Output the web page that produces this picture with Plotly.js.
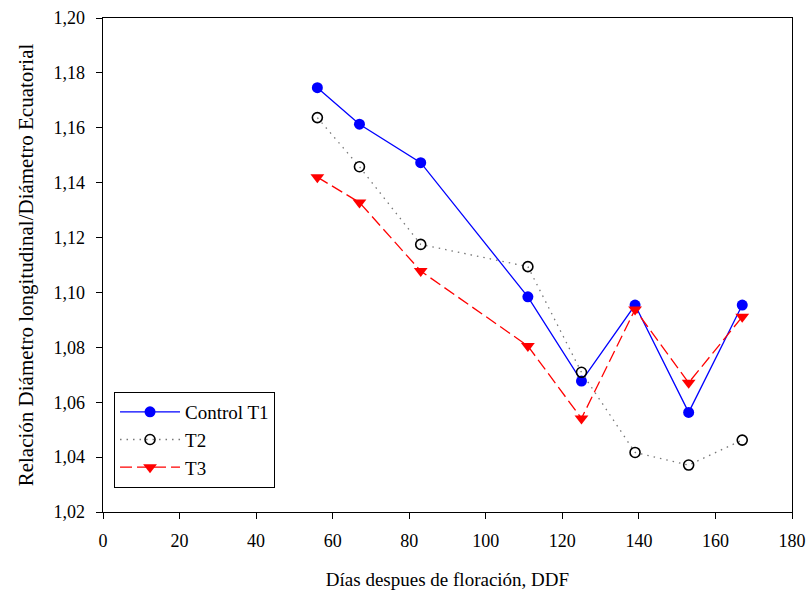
<!DOCTYPE html>
<html>
<head>
<meta charset="utf-8">
<script src="https://cdn.plot.ly/plotly-3.0.1.min.js"></script>
<style>
html,body{margin:0;padding:0;background:#fff;}
#chart{width:809px;height:596px;}
</style>
</head>
<body>
<div id="chart"></div>
<script>
const dias = [56, 67, 83, 111, 125, 139, 153, 167];
const controlT1 = [1.1746, 1.1613, 1.1473, 1.0984, 1.0677, 1.0954, 1.0563, 1.0954];
const t2 = [1.1637, 1.1458, 1.1175, 1.1094, 1.0709, 1.0417, 1.0371, 1.0462];
const t3 = [1.1420, 1.1328, 1.1078, 1.0805, 1.0541, 1.0938, 1.0671, 1.0911];
const seriesNames = ['Control T1', 'T2', 'T3'];
const xTitle = 'Días despues de floración, DDF';
const yTitle = 'Relación Diámetro longitudinal/Diámetro Ecuatorial';

const font = '"Liberation Serif", serif';

const traces = [
  {x: dias, y: controlT1, name: seriesNames[0], type: 'scatter', mode: 'lines+markers',
   line: {color: '#0000ff', width: 1.3},
   marker: {symbol: 'circle', size: 11, color: '#0000ff'}},
  {x: dias, y: t2, name: seriesNames[1], type: 'scatter', mode: 'lines+markers',
   line: {color: '#777777', width: 1.3, dash: '1.5px,5px'},
   marker: {symbol: 'circle-open', size: 10, color: '#000000', line: {width: 1.6, color: '#000000'}}},
  {x: dias, y: t3, name: seriesNames[2], type: 'scatter', mode: 'lines+markers',
   line: {color: '#ff0000', width: 1.3, dash: '12px,5px'},
   marker: {symbol: 'triangle-down', size: 12, color: '#ff0000'}}
];

const layout = {
  width: 809, height: 596,
  margin: {l: 103, r: 17, t: 18, b: 84},
  paper_bgcolor: '#ffffff', plot_bgcolor: '#ffffff',
  separators: ',.',
  font: {family: font, size: 18, color: '#000'},
  showlegend: true,
  legend: {
    x: 0.016, y: 0.243, xanchor: 'left', yanchor: 'top',
    bordercolor: '#000', borderwidth: 1, bgcolor: '#fff',
    font: {family: font, size: 19, color: '#000'},
    itemwidth: 60,
    tracegroupgap: 0
  },
  xaxis: {
    range: [0, 180], tick0: 0, dtick: 20, tickmode: 'linear',
    showgrid: false, zeroline: false,
    showline: true, linecolor: '#000', linewidth: 1.3, mirror: true,
    ticks: 'outside', ticklen: 6, tickwidth: 1, tickcolor: '#000',
    ticklabelstandoff: 6,
    tickfont: {family: font, size: 18},
    title: {text: xTitle, font: {family: font, size: 19}, standoff: 22}
  },
  yaxis: {
    range: [1.02, 1.20], tick0: 1.02, dtick: 0.02, tickmode: 'linear',
    tickformat: '.2f',
    showgrid: false, zeroline: false,
    showline: true, linecolor: '#000', linewidth: 1.3, mirror: true,
    ticks: 'outside', ticklen: 6, tickwidth: 1, tickcolor: '#000',
    ticklabelstandoff: 7,
    tickfont: {family: font, size: 18},
    title: {text: yTitle, font: {family: font, size: 21}, standoff: 14}
  }
};

Plotly.newPlot('chart', traces, layout, {displayModeBar: false, staticPlot: true});
</script>
</body>
</html>
